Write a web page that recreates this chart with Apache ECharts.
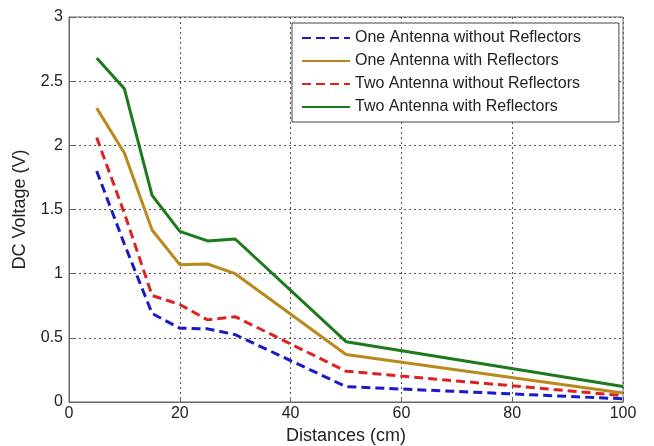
<!DOCTYPE html>
<html>
<head>
    <meta http-equiv="Content-Type" content="text/html; charset=utf-8">
    <title>DC Voltage vs Distance</title>
    <script src="https://cdn.jsdelivr.net/npm/echarts@6/dist/echarts.min.js"></script>
    <style>
        html, body { margin: 0; padding: 0; background: #fff; }
    </style>
</head>
<body>
    <div id="chart" style="width: 654px; height: 446px;"></div>
    <script type="text/javascript">
        // distances (cm)
        var distances = [5, 10, 15, 20, 25, 30, 50, 100];
        // DC voltage (V)
        var oneNoRefl = [1.80, 1.23, 0.69, 0.575, 0.57, 0.525, 0.12, 0.025];
        var oneRefl = [2.29, 1.94, 1.34, 1.07, 1.075, 1.00, 0.37, 0.07];
        var twoNoRefl = [2.06, 1.47, 0.83, 0.76, 0.64, 0.665, 0.24, 0.05];
        var twoRefl = [2.68, 2.44, 1.61, 1.33, 1.255, 1.27, 0.47, 0.12];
        var names = [
            'One Antenna without Reflectors',
            'One Antenna with Reflectors',
            'Two Antenna without Reflectors',
            'Two Antenna with Reflectors'
        ];

        function pairs(ys) {
            return distances.map(function (x, i) { return [x, ys[i]]; });
        }

        var chart = echarts.init(document.getElementById('chart'));
        var font = 'Liberation Sans, Arial, sans-serif';
        var gridLine = { show: true, lineStyle: { color: '#555', type: [2, 3], width: 1 } };

        var option = {
            animation: false,
            backgroundColor: '#fff',
            textStyle: { fontFamily: font },
            grid: {
                left: 69, right: 31, top: 17, bottom: 44,
                outerBoundsMode: 'none',
                show: true, borderColor: '#666', borderWidth: 1
            },
            legend: {
                orient: 'vertical',
                left: 292, top: 23,
                backgroundColor: '#fff',
                borderColor: '#444', borderWidth: 1,
                padding: [7, 38, 7, 9],
                itemWidth: 48, itemHeight: 14, itemGap: 7,
                itemStyle: { opacity: 0 },
                textStyle: { fontSize: 16, color: '#222', fontFamily: font },
                data: names
            },
            xAxis: {
                type: 'value', min: 0, max: 100, interval: 20,
                name: 'Distances (cm)', nameLocation: 'middle', nameGap: 25,
                nameTextStyle: { fontSize: 18, color: '#222' },
                axisLine: { show: true, lineStyle: { color: '#666' } },
                axisTick: { show: true, inside: true, length: 5, lineStyle: { color: '#666' } },
                axisLabel: { fontSize: 16, color: '#222', margin: 4 },
                splitLine: gridLine
            },
            yAxis: {
                type: 'value', min: 0, max: 3, interval: 0.5,
                name: 'DC Voltage (V)', nameLocation: 'middle', nameGap: 40,
                nameTextStyle: { fontSize: 18, color: '#222' },
                axisLine: { show: true, lineStyle: { color: '#666' } },
                axisTick: { show: true, inside: true, length: 5, lineStyle: { color: '#666' } },
                axisLabel: { fontSize: 16, color: '#222', margin: 6 },
                splitLine: gridLine
            },
            series: [
                {
                    name: names[0], type: 'line', showSymbol: false, symbol: 'none',
                    data: pairs(oneNoRefl),
                    itemStyle: { color: '#1a1ac8' },
                    lineStyle: { color: '#1a1ac8', width: 3, type: [9, 5] }
                },
                {
                    name: names[1], type: 'line', showSymbol: false, symbol: 'none',
                    data: pairs(oneRefl),
                    itemStyle: { color: '#b8891c' },
                    lineStyle: { color: '#b8891c', width: 3 }
                },
                {
                    name: names[2], type: 'line', showSymbol: false, symbol: 'none',
                    data: pairs(twoNoRefl),
                    itemStyle: { color: '#dd2222' },
                    lineStyle: { color: '#dd2222', width: 3, type: [9, 5] }
                },
                {
                    name: names[3], type: 'line', showSymbol: false, symbol: 'none',
                    data: pairs(twoRefl),
                    itemStyle: { color: '#1c7a1c' },
                    lineStyle: { color: '#1c7a1c', width: 3 }
                }
            ]
        };

        chart.setOption(option);
    </script>
</body>
</html>
